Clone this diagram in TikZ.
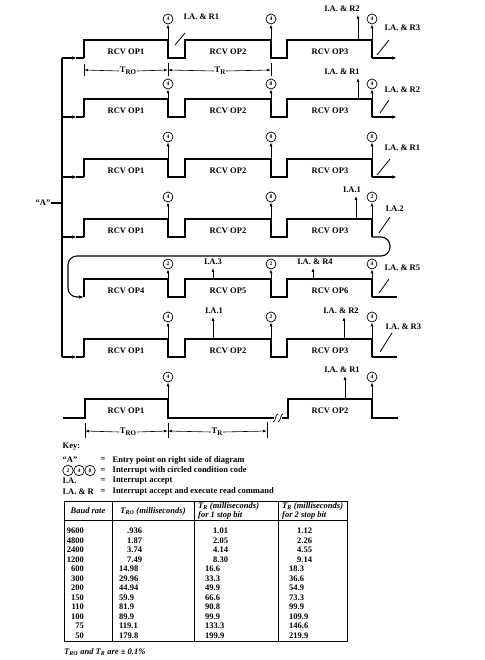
\documentclass[tikz,border=0pt]{standalone}
\usepackage{fontspec}
\setmainfont{Liberation Serif}
\usetikzlibrary{arrows.meta}
\newcommand\rcvrow[5]{%
  \coordinate (#1s) at (84,#2+18);
  \draw[wave] (#1s) -- ++(0,-18) -- (168,#2) -- ++(0,18) -- (185,#2+18) -- ++(0,-18) -- (271,#2) -- ++(0,18) -- (287,#2+18) -- ++(0,-18) -- (372,#2) -- ++(0,18) coordinate (#1e);
  \node[txt] (#1p1) at (126,#2+12) {RCV OP#3};
  \node[txt] (#1p2) at (228,#2+12) {RCV OP#4};
  \node[txt] (#1p3) at (330,#2+12) {RCV OP#5};
}
\newcommand\condrow[6]{%
  \node[cc] (#1c1) at (168,#2-#3) {#4};
  \node[cc] (#1c2) at (271,#2-#3) {#5};
  \node[cc] (#1c3) at (372,#2-#3) {#6};
  \draw[upar] (168,#2) -- (#1c1);
  \draw[upar] (271,#2) -- (#1c2);
  \draw[upar] (372,#2) -- (#1c3);
}
\newcommand\dimsub[1]{\raisebox{-2.2pt}{\fontsize{7}{7}\selectfont #1}}
\begin{document}
\begin{tikzpicture}[x=1pt,y=-1pt,
  wave/.style={line width=1.1pt, line join=miter},
  thinl/.style={line width=0.7pt},
  txt/.style={font=\fontsize{8.5}{10}\selectfont\bfseries, inner sep=0.5pt},
  ia/.style={txt, outer sep=2.5pt},
  tab/.style={font=\fontsize{8.5}{10}\selectfont\bfseries, inner sep=0pt},
  cc/.style={circle, draw, line width=0.7pt, minimum size=10pt, inner sep=0pt, font=\fontsize{5.5}{6}\selectfont\bfseries},
  upar/.style={line width=0.8pt, -{Latex[length=4pt,width=3pt]}},
  dimar/.style={line width=0.6pt, -{Latex[length=4pt,width=2.6pt]}},
  entar/.style={wave, -{Latex[length=5pt,width=3.6pt]}},
  slant/.style={line width=0.8pt}
]
\useasboundingbox (0,0) rectangle (484,660);

% ---- rows 1-6
\rcvrow{r1}{40}{1}{2}{3}
\rcvrow{r2}{99}{1}{2}{3}
\rcvrow{r3}{159}{1}{2}{3}
\rcvrow{r4}{219}{1}{2}{3}
\rcvrow{r5}{279}{4}{5}{6}
\rcvrow{r6}{339}{1}{2}{3}
\condrow{r1}{40}{21}{4}{4}{4}
\condrow{r2}{99}{15}{4}{8}{4}
\condrow{r3}{159}{22}{4}{8}{8}
\condrow{r4}{219}{22}{4}{8}{2}
\condrow{r5}{279}{15}{2}{2}{4}
\condrow{r6}{339}{22}{4}{2}{4}

% row ends
\coordinate (r1o) at (397,58);
\coordinate (r2o) at (397,117);
\coordinate (r3o) at (397,177);
\coordinate (r5o) at (397,297);
\coordinate (r6o) at (397,357);
\draw[wave,-{Latex[length=5pt,width=3.6pt]}] (r1e) -- (r1o);
\draw[wave,-{Latex[length=5pt,width=3.6pt]}] (r2e) -- (r2o);
\draw[wave,-{Latex[length=5pt,width=3.6pt]}] (r3e) -- (r3o);
\draw[wave] (r5e) -- (r5o);
\draw[wave] (r6e) -- (r6o);
\draw[wave,-{Latex[length=5pt,width=3.6pt]}, rounded corners=9pt] (r4e) -- (390,237) -- (390,256) -- (68,256) -- (68,297) -- (r5s);

% bus and entry
\coordinate (bt) at (62,58);
\coordinate (bb) at (62,357);
\draw[wave] (bt) -- (bb);
\foreach \l/\n in {58/r1s,117/r2s,177/r3s,237/r4s,357/r6s}{
  \draw[entar] (62,\l) -- (77,\l);
  \draw[wave] (76,\l) -- (\n);
}
\node[txt] (A) at (43,203) {“A”};
\draw[wave] (A.east) -- (62,203);

% labels with long arrows
\node[ia] (r1m) at (342,9) {I.A. \& R2};
\draw[upar] (358,40) -- (r1m.south -| 358,0);
\node[ia] (r2m) at (342,72) {I.A. \& R1};
\draw[upar] (358,99) -- (r2m.south -| 358,0);
\node[ia] (r4m) at (352,190) {I.A.1};
\draw[upar] (356,219) -- (r4m.south -| 356,0);
\node[ia] (r5m1) at (213,262) {I.A.3};
\draw[upar] (213,279) -- (r5m1.south -| 213,0);
\node[ia] (r5m2) at (315,262) {I.A. \& R4};
\draw[upar] (313,279) -- (r5m2.south -| 313,0);
\node[ia] (r6m1) at (214,311) {I.A.1};
\draw[upar] (213,339) -- (r6m1.south -| 213,0);
\node[ia] (r6m2) at (341,311) {I.A. \& R2};
\draw[upar] (344,339) -- (r6m2.south -| 344,0);

% slanted pointer labels
\node[txt,anchor=west] (r1q) at (183,17) {I.A. \& R1};
\draw[slant] (175,45) -- (185,33);
\node[txt,anchor=west] (r1x) at (384,28) {I.A. \& R3};
\draw[slant] (377,55) -- (389,40);
\node[txt,anchor=west] (r2x) at (384,90) {I.A. \& R2};
\draw[slant] (380,113) -- (389,100);
\node[txt,anchor=west] (r3x) at (384,148) {I.A. \& R1};
\draw[slant] (377,175) -- (390,159);
\node[txt,anchor=west] (r4x) at (385,209) {I.A.2};
\draw[slant] (379,233) -- (390,217);
\node[txt,anchor=west] (r5x) at (384,268) {I.A. \& R5};
\draw[slant] (379,293) -- (389,279);
\node[txt,anchor=west] (r6x) at (385,327) {I.A. \& R3};
\draw[slant] (380,352) -- (392,333);

% top dimension
\draw[thinl] (84,64) -- (84,76);
\draw[thinl] (168,63) -- (168,76);
\draw[thinl] (271,63) -- (271,76);
\node[txt] (tro1) at (128,71) {T\dimsub{RO}};
\node[txt] (tr1) at (220,71) {T\dimsub{R}};
\draw[dimar] (tro1.west) -- (84,70);
\draw[dimar] (tro1.east) -- (168,70);
\draw[dimar] (tr1.west) -- (168,70);
\draw[dimar] (tr1.east) -- (271,70);

% ---- row 7
\coordinate (r7a) at (63,418);
\draw[wave] (r7a) -- (85,418) -- (85,399) -- (168,399) -- (168,418) -- (274,418);
\draw[thinl] (273,422) .. controls (276,422) and (275,414) .. (278,414);
\draw[thinl] (278,422) .. controls (281,422) and (280,414) .. (283,414);
\draw[wave] (282,418) -- (288,418) -- (288,399) -- (372,399) -- (372,418) -- (398,418);
\node[txt] (r7p1) at (126,411) {RCV OP1};
\node[txt] (r7p2) at (330,411) {RCV OP2};
\node[cc] (r7c1) at (168,377) {4};
\node[cc] (r7c2) at (372,377) {4};
\draw[upar] (168,399) -- (r7c1);
\draw[upar] (372,399) -- (r7c2);
\node[ia] (r7m) at (342,370) {I.A. \& R1};
\draw[upar] (345,399) -- (r7m.south -| 345,0);

% bottom dimension
\draw[thinl] (85,423) -- (85,438);
\draw[thinl] (168,423) -- (168,438);
\draw[thinl] (267,422) -- (267,438);
\node[txt] (tro2) at (128,432) {T\dimsub{RO}};
\node[txt] (tr2) at (217,432) {T\dimsub{R}};
\draw[dimar] (tro2.west) -- (85,431);
\draw[dimar] (tro2.east) -- (168,431);
\draw[dimar] (tr2.west) -- (168,431);
\draw[dimar] (tr2.east) -- (267,431);

% ---- key
\node[txt,anchor=west] (key) at (62,447) {Key:};
\node[txt,anchor=west] (k1) at (62,460) {“A”};
\node[cc,minimum size=10.5pt] (k2a) at (68,470.5) {2};
\node[cc,minimum size=10.5pt] (k2b) at (79,470.5) {4};
\node[cc,minimum size=10.5pt] (k2c) at (90,470.5) {8};
\node[txt,anchor=west] (k3) at (62,481) {I.A.};
\node[txt,anchor=west] (k4) at (62,491.5) {I.A. \& R};
\foreach \y/\t in {460/Entry point on right side of diagram, 470.5/Interrupt with circled condition code, 481/Interrupt accept, 491.5/Interrupt accept and execute read command}{
  \node[txt] at (103,\y) {=};
  \node[txt,anchor=west] at (112,\y) {\t};
}

% ---- table
\draw[line width=0.8pt] (64,501) rectangle (347,641);
\draw[line width=0.8pt] (64,520) -- (347,520);
\foreach \x in {112,194,278}{\draw[line width=0.8pt] (\x,501) -- (\x,641);}
\node[tab] at (88,511) {\itshape Baud rate};
\node[tab] at (153,511) {\itshape T\textsubscript{RO} (milliseconds)};
\node[tab,anchor=west] at (198,506) {\itshape T\textsubscript{R} (milliseconds)};
\node[tab,anchor=west] at (198,515) {\itshape for 1 stop bit};
\node[tab,anchor=west] at (282,506) {\itshape T\textsubscript{R} (milliseconds)};
\node[tab,anchor=west] at (282,515) {\itshape for 2 stop bit};
\foreach \a/\b/\c/\d [count=\i] in {9600/.936/1.01/1.12, 4800/1.87/2.05/2.26, 2400/3.74/4.14/4.55, 1200/7.49/8.30/9.14, 600/14.98/16.6/18.3, 300/29.96/33.3/36.6, 200/44.94/49.9/54.9, 150/59.9/66.6/73.3, 110/81.9/90.8/99.9, 100/89.9/99.9/109.9, 75/119.1/133.3/146.6, 50/179.8/199.9/219.9}{
  \pgfmathsetmacro{\yy}{521.5+9.5*\i}
  \pgfmathsetmacro{\dx}{\i<5 ? 8 : 0}
  \node[tab,anchor=east] at (84,\yy) {\a};
  \node[tab,anchor=west] at (119+\dx,\yy) {\b};
  \node[tab,anchor=west] at (205+\dx,\yy) {\c};
  \node[tab,anchor=west] at (289+\dx,\yy) {\d};
}
\node[tab,anchor=west] (foot) at (64,652) {\itshape T\textsubscript{RO} and T\textsubscript{R} are ± 0.1\%};
\end{tikzpicture}
\end{document}
